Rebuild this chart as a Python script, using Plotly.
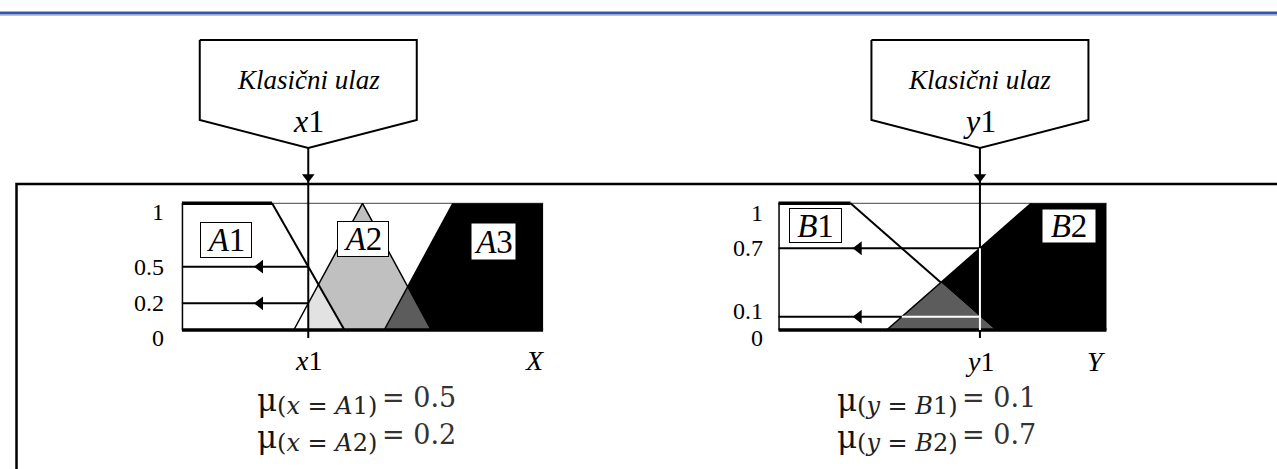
import plotly.graph_objects as go

# ---------------- data ----------------
# membership functions as trapezoids (a, b, c, d); triangles have b == c
A1 = [0.0, 0.0, 2.5, 4.5]
A2 = [3.1, 5.0, 5.0, 6.9]
A3 = [5.6, 7.5, 10.0, 10.0]
x1 = 3.5
B1 = [0.0, 0.0, 2.2, 6.6]
B2 = [3.3, 7.7, 10.0, 10.0]
y1 = 6.14
X_MAX = 10.0
left_ticks = ["1", "0.5", "0.2", "0"]
right_ticks = ["1", "0.7", "0.1", "0"]
left_sets = ["A1", "A2", "A3"]
right_sets = ["B1", "B2"]
mu_left = ["0.5", "0.2"]
mu_right = ["0.1", "0.7"]
input_title = "Klasični ulaz"

# ---------------- geometry (pixels) ----------------
W, H = 1277, 469
L_BOX = (181.7, 543.3)
R_BOX = (778.3, 1106.7)
Y0PX, Y1PX = 330.0, 203.3
U = Y0PX - Y1PX


def py(px):
    return (Y0PX - px) / U


def ux(px, box):
    return px * X_MAX / (box[1] - box[0])


def bx(px, box):
    return (px - box[0]) * X_MAX / (box[1] - box[0])


def mf(x, p):
    a, b, c, d = p
    if b <= x <= c:
        return 1.0
    if a < x < b:
        return (x - a) / (b - a)
    if c < x < d:
        return (d - x) / (d - c)
    return 0.0


def cross(fall, rise):
    c, d = fall[2], fall[3]
    a, b = rise[0], rise[1]
    x = (d * (b - a) + a * (d - c)) / ((b - a) + (d - c))
    return (x, (d - x) / (d - c))


fig = go.Figure()


def poly(pts, ax, color):
    xs = [p[0] for p in pts] + [pts[0][0]]
    ys = [p[1] for p in pts] + [pts[0][1]]
    fig.add_trace(go.Scatter(x=xs, y=ys, xaxis=ax[0], yaxis=ax[1], mode="lines",
                             fill="toself", fillcolor=color, line=dict(width=0, color=color),
                             hoverinfo="skip", showlegend=False))


def line(xs, ys, ax, color="black", width=2):
    fig.add_trace(go.Scatter(x=xs, y=ys, xaxis=ax[0], yaxis=ax[1], mode="lines",
                             line=dict(width=width, color=color), hoverinfo="skip",
                             showlegend=False))


def marker(x, y, ax, symbol, size=12):
    fig.add_trace(go.Scatter(x=[x], y=[y], xaxis=ax[0], yaxis=ax[1], mode="markers",
                             marker=dict(symbol=symbol, size=size, color="black",
                                         line=dict(width=0)),
                             hoverinfo="skip", showlegend=False, cliponaxis=False))


LA = ("x", "y")
RA = ("x2", "y2")

PENT_TOP, PENT_SIDE, PENT_TIP = 40, 120, 148
PENT_HW_PX = 108.5
RECT_TOP = 184
LINE_BOTTOM = 338


def pentagon(xc, box, ax):
    hw = ux(PENT_HW_PX, box)
    xs = [xc - hw, xc + hw, xc + hw, xc, xc - hw, xc - hw]
    ys = [py(PENT_TOP), py(PENT_TOP), py(PENT_SIDE), py(PENT_TIP), py(PENT_SIDE), py(PENT_TOP)]
    fig.add_trace(go.Scatter(x=xs, y=ys, xaxis=ax[0], yaxis=ax[1], mode="lines",
                             fill="toself", fillcolor="white",
                             line=dict(width=2, color="black"), hoverinfo="skip",
                             showlegend=False))
    marker(xc, py(RECT_TOP - 7), ax, "triangle-down", 11)


# ---------------- left chart ----------------
mA1 = mf(x1, A1)
mA2 = mf(x1, A2)
i12 = cross(A1, A2)
i23 = cross(A2, A3)

line([0, X_MAX], [1, 1], LA, "#444", 1)
poly([(x1, 0), (x1, mA2), i12, (A1[3], 0)], LA, "#e2e2e2")
poly([i12, (A2[1], 1), i23, (A3[0], 0), (A1[3], 0)], LA, "#c0c0c0")
poly([(A3[0], 0), i23, (A2[3], 0)], LA, "#5c5c5c")
poly([i23, (A3[1], 1), (X_MAX, 1), (X_MAX, 0), (A2[3], 0)], LA, "black")
line([A2[0], A2[1], A2[3]], [0, 1, 0], LA, "black", 1.5)
line([A3[0], A3[1]], [0, 1], LA, "black", 1.5)
line([A1[2], A1[3]], [1, 0], LA, "black", 2)
line([0, A1[2]], [1, 1], LA, "black", 3.5)
line([0, 0], [0, 1], LA, "black", 3)
line([0, X_MAX], [0, 0], LA, "black", 3.5)
line([0, x1], [mA1, mA1], LA, "black", 2)
line([0, x1], [mA2, mA2], LA, "black", 2)
ARROW_TIP_L = bx(253, L_BOX)
marker(ARROW_TIP_L + ux(7, L_BOX), mA1, LA, "triangle-left", 12)
marker(ARROW_TIP_L + ux(7, L_BOX), mA2, LA, "triangle-left", 12)
line([x1, x1], [py(PENT_TIP), py(LINE_BOTTOM)], LA, "black", 2)
pentagon(x1, L_BOX, LA)

# ---------------- right chart ----------------
mB1 = mf(y1, B1)
mB2 = mf(y1, B2)
iB = cross(B1, B2)
xb = B2[0] + mB1 * (B2[1] - B2[0])

line([0, X_MAX], [1, 1], RA, "#444", 1)
poly([(B2[0], 0), iB, (B1[3], 0)], RA, "#5c5c5c")
poly([iB, (B2[1], 1), (X_MAX, 1), (X_MAX, 0), (B1[3], 0)], RA, "black")
line([B2[0], B2[1]], [0, 1], RA, "black", 1.5)
line([B1[2], iB[0]], [1, iB[1]], RA, "black", 2)
line([0, B1[2]], [1, 1], RA, "black", 3.5)
line([0, 0], [0, 1], RA, "black", 3)
line([0, X_MAX], [0, 0], RA, "black", 3.5)
line([0, y1], [mB2, mB2], RA, "black", 2)
line([0, xb], [mB1, mB1], RA, "black", 2)
line([xb, y1], [mB1, mB1], RA, "white", 2)
ARROW_TIP_R = bx(851.7, R_BOX)
marker(ARROW_TIP_R + ux(7, R_BOX), mB2, RA, "triangle-left", 12)
marker(ARROW_TIP_R + ux(7, R_BOX), mB1, RA, "triangle-left", 12)
line([y1, y1], [py(PENT_TIP), mB2], RA, "black", 2)
line([y1, y1], [mB2, 0], RA, "white", 2)
line([y1, y1], [0, py(LINE_BOTTOM)], RA, "black", 2)
pentagon(y1, R_BOX, RA)

# ---------------- text ----------------
SERIF = "Liberation Serif, Times New Roman, Times, serif"
MU = "DejaVu Serif, Liberation Serif, serif"
ann = []


def txt(x, y, text, xref, yref, size, xanchor="center", xshift=0, yshift=0,
        family=SERIF, color="black", **kw):
    d = dict(x=x, y=y, xref=xref, yref=yref, text=text, showarrow=False,
             font=dict(family=family, size=size, color=color), xanchor=xanchor,
             yanchor="middle", xshift=xshift, yshift=yshift)
    d.update(kw)
    ann.append(d)


def fmt(lbl):
    return "<i>%s</i>%s" % (lbl[0], lbl[1:])


txt(x1, py(80), "<i>%s</i>" % input_title, "x", "y", 27)
txt(x1, py(121), fmt("x1"), "x", "y", 32)
txt(y1, py(80), "<i>%s</i>" % input_title, "x2", "y2", 27)
txt(y1, py(121), fmt("y1"), "x2", "y2", 32)

set_box = dict(bgcolor="white", borderpad=0)
txt(bx(226, L_BOX), py(240), fmt(left_sets[0]), "x", "y", 33, bordercolor="black",
    borderwidth=1, width=50, height=34, **set_box)
txt(A2[1], py(239), fmt(left_sets[1]), "x", "y", 33, bordercolor="black",
    borderwidth=1, width=50, height=34, **set_box)
txt(bx(493, L_BOX), py(241), fmt(left_sets[2]), "x", "y", 33, width=43, height=35, **set_box)
txt(bx(815, R_BOX), py(225.5), fmt(right_sets[0]), "x2", "y2", 33, bordercolor="black",
    borderwidth=1, width=51, height=33, **set_box)
txt(bx(1069, R_BOX), py(226), fmt(right_sets[1]), "x2", "y2", 33, width=52, height=32, **set_box)

for lbl, yv, ys in zip(left_ticks, [1, mA1, mA2, 0], [-9, 0, 0, -8]):
    txt(0, yv, lbl, "x", "y", 24, xanchor="right", xshift=-16, yshift=ys)
for lbl, yv, ys in zip(right_ticks, [1, mB2, mB1, 0], [-10, 0, 6, -8]):
    txt(0, yv, lbl, "x2", "y2", 24, xanchor="right", xshift=-13, yshift=ys)

txt(x1, py(360), fmt("x1"), "x", "y", 28)
txt(X_MAX, py(360), "<i>X</i>", "x", "y", 28, xshift=-9)
txt(y1, py(361), fmt("y1"), "x2", "y2", 28)
txt(X_MAX, py(361), "<i>Y</i>", "x2", "y2", 28, xshift=-10)


# membership formulas: mu symbol, subscript and value drawn as three pieces
def mu_line(start_px, row_px, var, setname, val, ax, box):
    txt(bx(start_px, box), py(row_px + 2), "μ", ax[0], ax[1], 31, xanchor="left",
        family=MU, color="#111")
    txt(bx(start_px + 20, box), py(row_px + 8), "(<i>%s</i> = <i>%s</i>%s)"
        % (var, setname[0], setname[1:]), ax[0], ax[1], 24, xanchor="left",
        family=MU, color="#222")
    txt(bx(start_px + 125, box), py(row_px - 1), "= %s" % val, ax[0], ax[1], 27,
        xanchor="left", family=MU, color="#333")


mu_line(255, 398, "x", left_sets[0], mu_left[0], LA, L_BOX)
mu_line(255, 435, "x", left_sets[1], mu_left[1], LA, L_BOX)
mu_line(835, 398, "y", right_sets[0], mu_right[0], RA, R_BOX)
mu_line(835, 435, "y", right_sets[1], mu_right[1], RA, R_BOX)


def P(xp, yp):
    return "%f,%f" % (xp / W, 1 - yp / H)


shapes = [
    dict(type="line", xref="paper", yref="paper", x0=0, x1=1, y0=1 - 13 / H, y1=1 - 13 / H,
         line=dict(color="#3556a8", width=3)),
    dict(type="line", xref="paper", yref="paper", x0=0, x1=1, y0=1 - 15.5 / H, y1=1 - 15.5 / H,
         line=dict(color="#b4c3e6", width=1)),
    dict(type="path", xref="paper", yref="paper",
         path="M %s L %s L %s" % (P(16.5, H + 5), P(16.5, RECT_TOP), P(W + 5, RECT_TOP)),
         line=dict(color="black", width=2.5)),
]

yr = [py(H), py(0)]
axis_common = dict(visible=False, showgrid=False, zeroline=False, fixedrange=True)
fig.update_layout(
    width=W, height=H, margin=dict(l=0, r=0, t=0, b=0),
    paper_bgcolor="white", plot_bgcolor="rgba(0,0,0,0)",
    showlegend=False, annotations=ann, shapes=shapes,
    xaxis=dict(domain=[L_BOX[0] / W, L_BOX[1] / W], range=[0, X_MAX], **axis_common),
    yaxis=dict(domain=[0, 1], range=yr, **axis_common),
    xaxis2=dict(domain=[R_BOX[0] / W, R_BOX[1] / W], range=[0, X_MAX], anchor="y2", **axis_common),
    yaxis2=dict(domain=[0, 1], range=yr, anchor="x2", **axis_common),
)

fig.write_html("out.html", config={"displayModeBar": False},
               post_script="document.body.style.margin='0px';")
